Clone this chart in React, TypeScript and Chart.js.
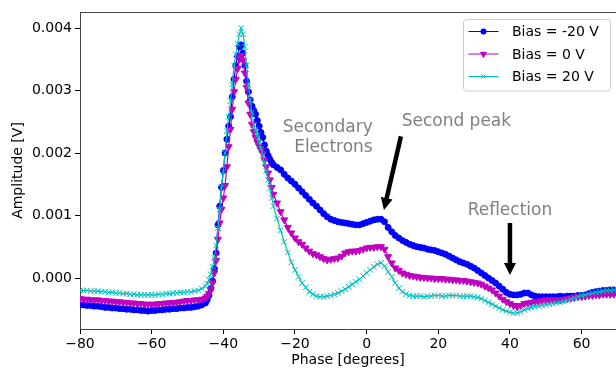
import { useEffect, useRef } from 'react';
import { Chart, registerables } from 'chart.js';

Chart.register(...registerables);

// ---- Data ----
const phase = [
  -80, -79, -78, -77, -76, -75, -74, -73, -72, -71,
  -70, -69, -68, -67, -66, -65, -64, -63, -62, -61,
  -60, -59, -58, -57, -56, -55, -54, -53, -52, -51,
  -50, -49, -48, -47, -46, -45,
  -44.5, -44, -43.5, -43, -42.5, -42, -41.5, -41, -40.5, -40,
  -39.5, -39, -38.5, -38, -37.5, -37, -36.5, -36, -35.5, -35,
  -34.5, -34, -33.5, -33, -32.5, -32, -31.5, -31, -30.5, -30,
  -29.5, -29, -28.5, -28, -27.5, -27, -26.5, -26,
  -25, -24, -23, -22, -21, -20, -19, -18, -17, -16,
  -15, -14, -13, -12, -11, -10, -9, -8, -7, -6,
  -5, -4, -3, -2, -1, 0, 1, 2, 3, 4,
  5, 6, 7, 8, 9, 10, 11, 12, 13, 14,
  15, 16, 17, 18, 19, 20, 21, 22, 23, 24,
  25, 26, 27, 28, 29, 30, 31, 32, 33, 34,
  35, 36, 37, 38, 39, 40, 41, 42, 43, 44,
  45, 46, 47, 48, 49, 50, 51, 52, 53, 54,
  55, 56, 57, 58, 59, 60, 61, 62, 63, 64,
  65, 66, 67, 68, 69, 70,
];

const biasMinus20 = [
  -0.00043, -0.00043, -0.00044, -0.00044, -0.00045, -0.00045, -0.00046, -0.00047, -0.00047, -0.00048,
  -0.00048, -0.00049, -0.00049, -0.0005, -0.0005, -0.00051, -0.00051, -0.00052, -0.00052, -0.00053,
  -0.00052, -0.00052, -0.00051, -0.00051, -0.0005, -0.0005, -0.00049, -0.00049, -0.00048, -0.00048,
  -0.00047, -0.00047, -0.00046, -0.00045, -0.00043, -0.0004,
  -0.00035, -0.00028, -0.00017, -0.00005, 0.00015, 0.0004, 0.00085, 0.00115, 0.00145, 0.00172,
  0.002, 0.00222, 0.00243, 0.00258, 0.0029, 0.00318, 0.0034, 0.00355, 0.0037, 0.00373,
  0.0036, 0.0034, 0.00315, 0.00298, 0.00285, 0.00275, 0.00268, 0.00262, 0.00252, 0.00243,
  0.00233, 0.00225, 0.00213, 0.00203, 0.00196, 0.0019, 0.00185, 0.00181,
  0.00177, 0.00173, 0.00166, 0.0016, 0.00155, 0.0015, 0.00144, 0.00138, 0.00132, 0.00126,
  0.0012, 0.00115, 0.00109, 0.00103, 0.00098, 0.00094, 0.00092, 0.0009, 0.00089, 0.00088,
  0.00087, 0.00086, 0.00085, 0.00085, 0.00087, 0.00089, 0.00091, 0.00093, 0.00094, 0.00094,
  0.0009, 0.00081, 0.00074, 0.00068, 0.00064, 0.0006, 0.00057, 0.00054, 0.00052, 0.0005,
  0.00049, 0.00048, 0.00046, 0.00045, 0.00044, 0.00042, 0.0004, 0.00038, 0.00035, 0.00032,
  0.00029, 0.00026, 0.00024, 0.00022, 0.00019, 0.00016, 0.00012, 0.00008, 0.00004, 0.0,
  -0.00004, -0.00008, -0.00013, -0.00018, -0.00023, -0.00026, -0.00027, -0.00027, -0.00026, -0.00024,
  -0.00024, -0.00027, -0.00029, -0.0003, -0.0003, -0.0003, -0.0003, -0.0003, -0.0003, -0.00029,
  -0.0003, -0.00029, -0.00029, -0.00029, -0.00028, -0.00028, -0.00027, -0.00025, -0.00023, -0.00022,
  -0.00021, -0.0002, -0.0002, -0.00019, -0.00019, -0.00019,
];

const bias0 = [
  -0.00033, -0.00034, -0.00034, -0.00035, -0.00035, -0.00035, -0.00036, -0.00036, -0.00037, -0.00037,
  -0.00038, -0.00038, -0.00039, -0.00039, -0.0004, -0.0004, -0.00041, -0.00041, -0.00042, -0.00042,
  -0.00042, -0.00042, -0.00041, -0.00041, -0.0004, -0.0004, -0.00039, -0.00039, -0.00038, -0.00037,
  -0.00036, -0.00036, -0.00035, -0.00035, -0.00034, -0.00032,
  -0.00029, -0.00025, -0.00018, -0.00008, 0.00008, 0.00028, 0.00062, 0.00088, 0.0011, 0.00128,
  0.00148, 0.00178, 0.0021, 0.00238, 0.0027, 0.00298, 0.00318, 0.00335, 0.0035, 0.00356,
  0.00348, 0.00328, 0.00305, 0.0028, 0.00262, 0.00246, 0.00234, 0.00225, 0.00217, 0.00211,
  0.00205, 0.00199, 0.00189, 0.00178, 0.00168, 0.00157, 0.00145, 0.00134,
  0.0012, 0.00106, 0.00093, 0.00081, 0.00072, 0.00064, 0.00058, 0.00054, 0.00048, 0.00043,
  0.00039, 0.00037, 0.00034, 0.00031, 0.00029, 0.0003, 0.00031, 0.00032, 0.00035, 0.0004,
  0.00042, 0.00043, 0.00043, 0.00044, 0.00046, 0.00048, 0.00049, 0.00049, 0.0005, 0.0005,
  0.00046, 0.00034, 0.00024, 0.00016, 0.00012, 0.00008, 0.00006, 0.00004, 0.00003, 0.00002,
  0.00001, 0.00001, 0.0, 0.0, -0.00001, -0.00001, -0.00001, -0.00002, -0.00002, -0.00003,
  -0.00003, -0.00004, -0.00004, -0.00005, -0.00006, -0.00007, -0.00008, -0.0001, -0.00013, -0.00016,
  -0.00019, -0.00024, -0.00029, -0.00034, -0.00038, -0.00041, -0.00044, -0.00046, -0.00044, -0.00041,
  -0.0004, -0.00039, -0.00038, -0.00037, -0.00036, -0.00035, -0.00035, -0.00035, -0.00035, -0.00035,
  -0.00034, -0.00033, -0.00032, -0.00031, -0.0003, -0.0003, -0.00029, -0.00028, -0.00028, -0.00027,
  -0.00027, -0.00026, -0.00026, -0.00026, -0.00026, -0.00026,
];

const bias20 = [
  -0.0002, -0.0002, -0.0002, -0.00021, -0.00021, -0.00021, -0.00022, -0.00022, -0.00023, -0.00023,
  -0.00024, -0.00024, -0.00025, -0.00025, -0.00026, -0.00026, -0.00027, -0.00027, -0.00027, -0.00027,
  -0.00027, -0.00027, -0.00026, -0.00026, -0.00025, -0.00025, -0.00024, -0.00024, -0.00023, -0.00023,
  -0.00022, -0.00022, -0.00021, -0.0002, -0.00017, -0.00013,
  -0.00009, -0.00003, 0.00006, 0.00018, 0.00032, 0.00052, 0.0008, 0.0011, 0.00145, 0.0017,
  0.002, 0.00235, 0.00258, 0.00283, 0.0031, 0.0034, 0.00358, 0.00375, 0.0039, 0.004,
  0.0039, 0.0037, 0.0034, 0.00308, 0.00285, 0.00265, 0.00245, 0.00237, 0.00228, 0.00218,
  0.00207, 0.00196, 0.00184, 0.00171, 0.00157, 0.00143, 0.00128, 0.00115,
  0.00095, 0.00076, 0.00058, 0.00041, 0.00025, 0.00013, 0.00002, -0.00008, -0.00015, -0.00022,
  -0.00026, -0.00029, -0.0003, -0.0003, -0.00029, -0.00028, -0.00026, -0.00024, -0.00021, -0.00018,
  -0.00014, -0.0001, -0.00006, -0.00002, 0.00003, 0.00008, 0.00013, 0.00018, 0.00022, 0.00024,
  0.00019, 0.0001, 0.00002, -0.00008, -0.00016, -0.00022, -0.00026, -0.00028, -0.00029, -0.00029,
  -0.00029, -0.0003, -0.00029, -0.00029, -0.00028, -0.00028, -0.00029, -0.00029, -0.00028, -0.00028,
  -0.00028, -0.00029, -0.00029, -0.00029, -0.00029, -0.0003, -0.00031, -0.00033, -0.00036, -0.00039,
  -0.00042, -0.00045, -0.00048, -0.00051, -0.00053, -0.00055, -0.00056, -0.00056, -0.00054, -0.00051,
  -0.00049, -0.00047, -0.00046, -0.00045, -0.00044, -0.00043, -0.00042, -0.00041, -0.0004, -0.00039,
  -0.00037, -0.00036, -0.00034, -0.00032, -0.0003, -0.00028, -0.00027, -0.00025, -0.00024, -0.00023,
  -0.00022, -0.00021, -0.0002, -0.0002, -0.00019, -0.00019,
];

const seriesLabels = ['Bias = -20 V', 'Bias = 0 V', 'Bias = 20 V'];
const xTicks = [-80, -60, -40, -20, 0, 20, 40, 60];
const yTicks = [0, 0.001, 0.002, 0.003, 0.004];
const xRange = [-80, 69.6];
const yRange = [-0.000816, 0.004256];

// annotation texts with anchor positions in data coordinates
const annotationTexts = [
  { lines: ['Secondary', 'Electrons'], x: 1.7, y: 0.00233, align: 'right' as CanvasTextAlign },
  { lines: ['Second peak'], x: 9.77, y: 0.002426, align: 'left' as CanvasTextAlign },
  { lines: ['Reflection'], x: 40, y: 0.001013, align: 'center' as CanvasTextAlign },
];
// arrows: [fromX, fromY, toX, toY] in data coordinates
const annotationArrows = [
  [9.57, 0.002266, 4.83, 0.00109],
  [40, 0.00088, 40, 0.00005],
];

// ---- Styles ----
const FONT = '"DejaVu Sans", sans-serif';
const seriesStyles = [
  { color: '#0000ff', pointStyle: 'circle', radius: 3, legendRadius: 3, rotation: 0, order: 2 },
  { color: '#bf00bf', pointStyle: 'triangle', radius: 4, legendRadius: 3.5, rotation: 180, order: 1 },
  { color: '#00bfbf', pointStyle: 'crossRot', radius: 4, legendRadius: 3, rotation: 0, order: 0 },
];
const SPINE = '#444444';

function drawMarker(ctx: CanvasRenderingContext2D, style: string, x: number, y: number, r: number, color: string) {
  ctx.save();
  ctx.fillStyle = color;
  ctx.strokeStyle = color;
  ctx.lineWidth = 1;
  ctx.beginPath();
  if (style === 'circle') {
    ctx.arc(x, y, r, 0, Math.PI * 2);
    ctx.fill();
  } else if (style === 'triangle') {
    ctx.moveTo(x, y + r);
    ctx.lineTo(x - r * 0.866, y - r * 0.5);
    ctx.lineTo(x + r * 0.866, y - r * 0.5);
    ctx.closePath();
    ctx.fill();
    ctx.stroke();
  } else {
    const d = r * 0.7071;
    ctx.moveTo(x - d, y - d);
    ctx.lineTo(x + d, y + d);
    ctx.moveTo(x - d, y + d);
    ctx.lineTo(x + d, y - d);
    ctx.stroke();
  }
  ctx.restore();
}

const overlayPlugin = {
  id: 'overlay',
  afterDatasetsDraw(chart: any) {
    const { ctx, chartArea, scales } = chart;
    const xs = scales.x;
    const ys = scales.y;
    ctx.save();
    // top spine
    ctx.strokeStyle = SPINE;
    ctx.lineWidth = 1;
    ctx.beginPath();
    ctx.moveTo(chartArea.left, Math.round(chartArea.top) + 0.5);
    ctx.lineTo(chartArea.right, Math.round(chartArea.top) + 0.5);
    ctx.stroke();

    // annotation texts
    ctx.font = `17px ${FONT}`;
    ctx.fillStyle = '#808080';
    ctx.textBaseline = 'alphabetic';
    for (const t of annotationTexts) {
      ctx.textAlign = t.align;
      const px = xs.getPixelForValue(t.x);
      const py = ys.getPixelForValue(t.y);
      t.lines.forEach((line, i) => ctx.fillText(line, px, py + i * 20));
    }

    // arrows
    ctx.fillStyle = '#000000';
    for (const a of annotationArrows) {
      const sx = xs.getPixelForValue(a[0]);
      const sy = ys.getPixelForValue(a[1]);
      const tx = xs.getPixelForValue(a[2]);
      const ty = ys.getPixelForValue(a[3]);
      const dx = tx - sx;
      const dy = ty - sy;
      const len = Math.hypot(dx, dy);
      const ux = dx / len;
      const uy = dy / len;
      const nx = -uy;
      const ny = ux;
      const hl = 12;
      const hw = 6;
      const sw = 2.25;
      const bx = tx - ux * hl;
      const by = ty - uy * hl;
      ctx.beginPath();
      ctx.moveTo(sx + nx * sw, sy + ny * sw);
      ctx.lineTo(bx + nx * sw, by + ny * sw);
      ctx.lineTo(bx + nx * hw, by + ny * hw);
      ctx.lineTo(tx, ty);
      ctx.lineTo(bx - nx * hw, by - ny * hw);
      ctx.lineTo(bx - nx * sw, by - ny * sw);
      ctx.lineTo(sx - nx * sw, sy - ny * sw);
      ctx.closePath();
      ctx.fill();
    }

    // legend
    const lw = 147;
    const lh = 71.5;
    const lx = chartArea.right - 5.5 - lw;
    const ly = chartArea.top + 7.5;
    ctx.beginPath();
    ctx.roundRect(lx, ly, lw, lh, 3);
    ctx.fillStyle = 'rgba(255,255,255,0.8)';
    ctx.fill();
    ctx.strokeStyle = '#cccccc';
    ctx.lineWidth = 1;
    ctx.stroke();
    ctx.font = `14px ${FONT}`;
    ctx.textAlign = 'left';
    ctx.textBaseline = 'middle';
    seriesLabels.forEach((label, i) => {
      const st = seriesStyles[i];
      const ry = ly + 12 + i * 22.5;
      ctx.strokeStyle = st.color;
      ctx.lineWidth = 1;
      ctx.beginPath();
      ctx.moveTo(lx + 5, ry);
      ctx.lineTo(lx + 35, ry);
      ctx.stroke();
      drawMarker(ctx, st.pointStyle, lx + 20, ry, st.legendRadius, st.color);
      ctx.fillStyle = '#000000';
      ctx.fillText(label, lx + 48.5, ry + 1);
    });
    ctx.restore();
  },
};

export default function App() {
  const canvasRef = useRef<HTMLCanvasElement | null>(null);

  useEffect(() => {
    if (!canvasRef.current) return;
    const series = [biasMinus20, bias0, bias20];
    const chart = new Chart(canvasRef.current, {
      type: 'line',
      data: {
        datasets: series.map((vals, i) => ({
          label: seriesLabels[i],
          data: phase.map((p, j) => ({ x: p, y: vals[j] })),
          borderColor: seriesStyles[i].color,
          backgroundColor: seriesStyles[i].color,
          borderWidth: 1.2,
          pointStyle: seriesStyles[i].pointStyle as any,
          pointRadius: seriesStyles[i].radius,
          pointRotation: seriesStyles[i].rotation,
          pointBorderWidth: 1,
          pointBorderColor: seriesStyles[i].color,
          pointBackgroundColor: seriesStyles[i].color,
          tension: 0,
          order: seriesStyles[i].order,
        })),
      },
      options: {
        responsive: false,
        animation: false,
        events: [],
        layout: { autoPadding: false, padding: { top: 12, left: 0, right: 0, bottom: 0 } },
        plugins: {
          legend: { display: false },
          tooltip: { enabled: false },
          title: { display: false },
        },
        scales: {
          x: {
            type: 'linear',
            min: xRange[0],
            max: xRange[1],
            afterBuildTicks: (s: any) => {
              s.ticks = xTicks.map((v) => ({ value: v }));
            },
            afterFit: (s: any) => {
              s.height = 40;
              s.paddingLeft = 0;
              s.paddingRight = 0;
            },
            ticks: {
              autoSkip: false,
              maxRotation: 0,
              padding: 2,
              color: '#000000',
              font: { family: FONT, size: 14 },
              callback: (v: any) => (Number(v) < 0 ? '\u2212' + Math.abs(Number(v)) : String(v)),
            },
            grid: {
              display: true,
              drawOnChartArea: false,
              drawTicks: true,
              tickLength: 5,
              tickColor: '#000000',
              tickWidth: 1,
            },
            border: { display: true, color: SPINE, width: 1 },
            title: {
              display: true,
              text: 'Phase [degrees]',
              color: '#000000',
              font: { family: FONT, size: 14 },
              padding: { top: 0, bottom: 0 },
            },
          },
          y: {
            type: 'linear',
            min: yRange[0],
            max: yRange[1],
            afterBuildTicks: (s: any) => {
              s.ticks = yTicks.map((v) => ({ value: v }));
            },
            afterFit: (s: any) => {
              s.width = 80;
              s.paddingTop = 0;
              s.paddingBottom = 0;
            },
            ticks: {
              padding: 3,
              color: '#000000',
              font: { family: FONT, size: 14 },
              callback: (v: any) => Number(v).toFixed(3),
            },
            grid: {
              display: true,
              drawOnChartArea: false,
              drawTicks: true,
              tickLength: 5,
              tickColor: '#000000',
              tickWidth: 1,
            },
            border: { display: true, color: SPINE, width: 1 },
            title: {
              display: true,
              text: 'Amplitude [V]',
              color: '#000000',
              font: { family: FONT, size: 14 },
              padding: { top: 10, bottom: 0 },
            },
          },
        },
      },
      plugins: [overlayPlugin],
    });
    return () => chart.destroy();
  }, []);

  return (
    <div style={{ position: 'absolute', left: 0, top: 0, width: 616, height: 369, background: '#ffffff' }}>
      <canvas ref={canvasRef} width={616} height={369} />
    </div>
  );
}
